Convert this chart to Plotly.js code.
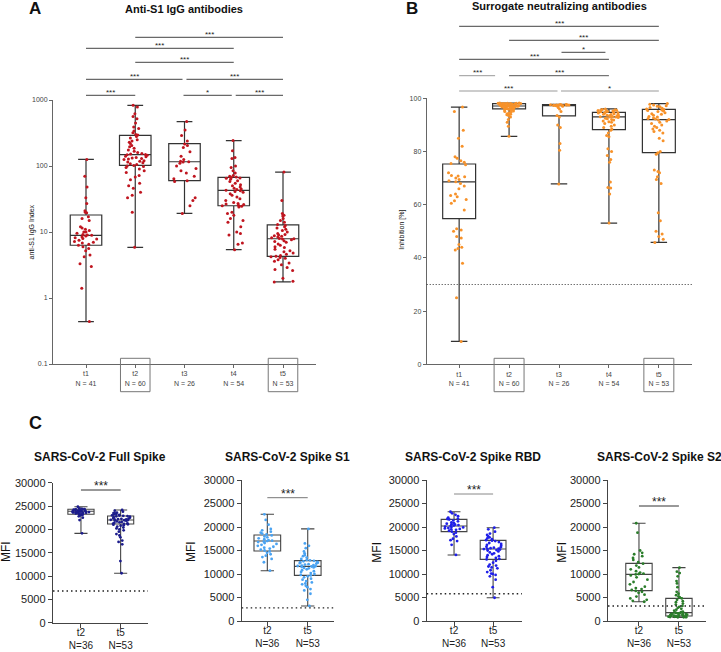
<!DOCTYPE html>
<html><head><meta charset="utf-8">
<script src="https://cdn.plot.ly/plotly-3.0.1.min.js"></script>
<style>html,body{margin:0;padding:0;background:#fff}</style>
</head><body><div id="chart" style="width:721px;height:652px"></div>
<script>
// ---------------- DATA ----------------
const timepointsAB = ['t1','t2','t3','t4','t5'];
const timepointsC = ['t2','t5'];

// Panel A: anti-S1 IgG index
const iggT1 = [126,70,48,33,27,21,20,19.5,17,16,15,12,11.5,11,10.5,10,10,9.6,9.2,9,8.9,8.7,8.5,8.2,8,7.8,7.5,7.2,7,6.8,6.5,6.3,6,5.6,5.2,4.5,4.2,3.3,3.0,1.4,0.44];
const iggT2 = [831,780,620,560,520,450,390,370,340,320,300,295,280,265,250,240,230,220,205,195,185,175,168,160,155,152,150,148,146,140,138,135,132,130,128,125,120,118,115,112,108,105,102,100,98,95,90,85,80,72,68,62,55,50,46,40,36,33,20,5.85];
const iggT3 = [471,350,290,240,215,205,190,165,140,125,118,116,115,110,100,92,85,78,70,64,60,58,33,30,25,19.1];
const iggT4 = [243,170,135,130,100,95,85,78,72,70,68,67,66,65,63,60,58,55,52,50,48,46,45,44,43,42,41,40,38,36,34,32,30,28,27,26.5,26,25.5,25,24.5,24,20,19,18,16,15,14,12,10,9.5,9,6.8,6.5,5.4];
const iggT5 = [81,30,19,18,17.5,16,15,14,13,12.5,12,11.5,11,10.5,10,9.5,9.2,9,8.8,8.6,8.4,8.2,8,7.9,7.8,7.6,7.4,7.2,7,6.6,6.3,6,5.8,5.5,5.2,5,4.8,4.6,4.4,4.3,4.2,4.1,4,3.8,3.6,3.4,3.2,2.9,2.7,2.6,2,1.8,1.75];
const iggQ1 = [6.3,102,60,25,4.27];
const iggMedian = [8.9,149,116,42.7,7.9];
const iggQ3 = [18.1,292,218,67.2,12.8];
const iggCutoff = 1;

// Panel B: surrogate neutralization, inhibition %
const svntT1 = [96.7,95,88,85,82,78,77.5,76.5,76,75.5,75,72,71,70.8,70.5,70,69.5,69,68.6,68,67,66,64,63.5,63,62,61.5,60.5,58,51,50.5,50,48,47.5,45,44,43.5,43,38,25,8.6];
const svntT2 = [98.2,98.2,98.1,98.1,98.1,98.0,98.0,98.0,98.0,97.9,97.9,97.9,97.8,97.8,97.8,97.7,97.7,97.6,97.6,97.5,97.5,97.4,97.4,97.3,97.3,97.2,97.2,97.1,97.1,97.0,97.0,96.9,96.9,96.8,96.8,96.7,96.6,96.5,96.4,96.3,96.2,96.1,96.0,96.0,95.8,95.6,95.4,95.2,95.0,94.8,94.5,94.2,94.0,93.8,93.5,93.0,92.0,91.0,89.5,85.7];
const svntT3 = [97.7,97.7,97.6,97.6,97.6,97.5,97.5,97.5,97.4,97.4,97.4,97.3,97.3,97.3,97.2,97.0,96.5,96.0,95.0,93.5,93.0,90.0,89.0,83.0,80.5,67.8];
const svntT4 = [96.0,95.8,95.7,95.6,95.5,95.4,95.3,95.2,95.0,94.9,94.8,94.7,94.6,94.5,94.4,94.2,94.0,93.9,93.8,93.6,93.5,93.4,93.3,93.2,93.1,93.0,93.0,92.8,92.5,92.3,92.0,91.8,91.5,91.2,91.0,90.5,90.0,89.5,89.0,88.5,88.0,87.0,86.0,85.5,81.0,80.0,78.5,77.0,76.0,68.5,66.5,66.3,64.0,53.1];
const svntT5 = [98.0,97.8,97.5,97.2,97.0,96.8,96.5,96.3,96.0,95.8,95.6,95.4,95.2,95.0,94.6,94.2,94.0,93.6,93.2,93.0,92.6,92.4,92.2,92.0,91.8,91.5,91.0,90.5,90.0,89.5,89.0,88.5,88.0,87.5,87.0,85.0,84.0,80.0,79.5,79.0,73.0,72.5,72.0,70.5,69.5,68.0,57.0,54.0,50.0,49.0,48.0,47.0,45.8];
const svntQ1 = [54.8,96.0,93.4,88.2,79.6];
const svntMedian = [68.6,97.1,97.3,93.0,92.0];
const svntQ3 = [75.3,98.0,97.6,94.7,95.8];
const svntCutoff = 30;

// Panel C: MFI
const fullT2 = [24850,24500,24400,24350,24300,24250,24200,24150,24100,24050,24000,23950,23900,23900,23850,23850,23800,23800,23750,23700,23700,23650,23600,23550,23500,23450,23400,23300,23250,23200,23100,23000,22800,22500,22000,19150];
const fullT5 = [24150,24000,23800,23600,23500,23400,23300,23200,23100,23000,22950,22900,22850,22800,22700,22600,22500,22400,22300,22250,22200,22150,22100,22050,22000,21950,21900,21800,21700,21600,21500,21400,21300,21200,21150,21100,21000,20900,20800,20600,20400,20200,20000,19800,19500,19000,18700,18300,17600,17300,16800,13200,10600];
const s1T2 = [22700,21500,20500,19600,19300,19000,18800,18600,18400,18200,18000,17800,17600,17400,17200,17100,17000,16900,16800,16600,16400,16200,16000,15800,15600,15400,15200,15000,14800,14500,14200,13900,13600,13200,12500,10700];
const s1T5 = [19600,16500,16000,15500,14800,14400,14000,13800,13500,13200,13000,12900,12800,12700,12600,12500,12400,12300,12200,12100,12000,11900,11800,11700,11650,11600,11500,11400,11300,11200,11000,10800,10600,10400,10200,10000,9800,9700,9500,9300,9000,8800,8500,8200,8000,7800,7500,7200,6800,6500,5800,4500,3200];
const rbdT2 = [23250,22900,22600,22300,22000,21800,21700,21600,21400,21200,21000,20800,20700,20600,20500,20400,20300,20200,20100,20000,19900,19800,19700,19600,19500,19400,19200,19000,18800,18500,18000,17500,17200,17000,16200,14050];
const rbdT5 = [19850,19500,19000,18600,18300,18000,17800,17600,17400,17200,17100,17000,16800,16600,16400,16200,16000,15800,15700,15600,15500,15400,15350,15300,15200,15100,15000,14800,14600,14400,14200,14000,13800,13600,13400,13200,13100,12800,12400,12000,11800,11600,11400,11200,10800,10400,10100,10000,9800,9500,8800,7200,4950];
const s2T2 = [20800,18800,15000,14500,14200,13800,13400,13000,12500,12200,11800,11400,11000,10600,10300,10100,10000,9900,9700,9300,8800,8300,7800,7300,7000,6800,6600,6400,6200,6000,5600,5200,4800,4500,4300,4100];
const s2T5 = [11350,10500,10200,9500,8500,8000,7200,6200,5800,5500,5200,5000,4800,4500,4200,4000,3700,3500,3200,3000,2800,2600,2400,2200,2000,1900,1800,1750,1700,1650,1600,1550,1500,1450,1400,1350,1300,1250,1200,1150,1100,1050,1000,980,950,920,900,880,860,840,820,800,780];
const fullQ1 = [23228,21150], fullMedian = [23871,22007], fullQ3 = [24300,22864];
const s1Q1 = [14893,9716], s1Median = [17021,11631], s1Q3 = [18297,12837];
const rbdQ1 = [19007,13120], rbdMedian = [20212,15319], rbdQ3 = [21631,17163];
const s2Q1 = [6454,1064], s2Median = [9929,1773], s2Q3 = [12269,4823];
const cCutoffs = [6800,2800,5800,3200];

// Significance comparisons [fromIndex, toIndex, label]
const sigA = [[1,4,'***'],[0,3,'***'],[1,3,'***'],[0,1.96,'***'],[2.04,4,'***'],[0,1,'***'],[1.98,2.96,'*'],[3.04,4,'***']];
const sigB = [[0,4,'***'],[1,4,'***'],[2.05,2.93,'*'],[0,3,'***'],[0,0.72,'***'],[1,3,'***'],[0,1.97,'***'],[2.04,4,'*']];
const sigC = ['***','***','***','***'];

// ---------------- LAYOUT HELPERS ----------------
const W = 721, H = 652;
const fx = x => x / W;
const fy = y => 1 - y / H;
const FONT = 'Liberation Sans, Arial, Helvetica, sans-serif';

const traces = [];
const shapes = [];
const annotations = [];

function panel(ax, cats, groups, q1, med, q3, color, boxW, lineColor, mSize, lineW) {
  const xa = 'x' + (ax === 1 ? '' : ax), ya = 'y' + (ax === 1 ? '' : ax);
  traces.push({
    type: 'box', x: cats, q1: q1, median: med, q3: q3,
    lowerfence: groups.map(g => Math.min(...g)),
    upperfence: groups.map(g => Math.max(...g)),
    xaxis: xa, yaxis: ya, boxpoints: false, width: boxW, whiskerwidth: 0.5,
    fillcolor: 'rgba(0,0,0,0)', line: {color: lineColor, width: lineW},
    hoverinfo: 'skip', showlegend: false
  });
  const xs = [], ys = [];
  groups.forEach((g, i) => g.forEach(v => { xs.push(cats[i]); ys.push(v); }));
  traces.push({
    type: 'box', x: xs, y: ys, xaxis: xa, yaxis: ya, boxpoints: 'all', jitter: 0.8, pointpos: 0,
    width: boxW, fillcolor: 'rgba(0,0,0,0)', line: {color: 'rgba(0,0,0,0)', width: 0},
    marker: {color: color, size: mSize}, hoverinfo: 'skip', showlegend: false
  });
}

const groupsA = [iggT1, iggT2, iggT3, iggT4, iggT5];
const groupsB = [svntT1, svntT2, svntT3, svntT4, svntT5];
panel(1, timepointsAB, groupsA, iggQ1, iggMedian, iggQ3, '#c0151f', 0.64, '#333', 3, 1.2);
panel(2, timepointsAB, groupsB, svntQ1, svntMedian, svntQ3, '#f7922a', 0.66, '#333', 3, 1.2);
const cSets = [
  [[fullT2, fullT5], fullQ1, fullMedian, fullQ3, '#1c1c8c'],
  [[s1T2, s1T5], s1Q1, s1Median, s1Q3, '#4aa3f2'],
  [[rbdT2, rbdT5], rbdQ1, rbdMedian, rbdQ3, '#1f1fe8'],
  [[s2T2, s2T5], s2Q1, s2Median, s2Q3, '#2a7d2a']
];
cSets.forEach((s, i) => panel(3 + i, timepointsC, s[0], s[1], s[2], s[3], s[4], 0.66, '#444', 2.8, 1.1));

// axes
const layout = {
  width: W, height: H, margin: {l: 0, r: 0, t: 0, b: 0}, autosize: false,
  paper_bgcolor: '#fff', plot_bgcolor: '#fff', showlegend: false, boxmode: 'overlay',
  font: {family: FONT, color: '#333'}
};
function xAxisAB(dom, range, groups) {
  return {domain: dom, range: range, type: 'category', showgrid: false, zeroline: false,
    showline: true, linecolor: '#666', linewidth: 1, ticks: 'outside', ticklen: 3, tickcolor: '#666',
    tickvals: timepointsAB, ticktext: timepointsAB.map((t, i) => t + '<br>N = ' + groups[i].length),
    tickfont: {size: 7, color: '#444', family: FONT}, fixedrange: true};
}
layout.xaxis = Object.assign(xAxisAB([fx(53), fx(316)], [-0.67, 4.67], groupsA), {anchor: 'y'});
layout.yaxis = {domain: [fy(364), fy(100)], anchor: 'x', type: 'log', range: [-1, 3], showgrid: false, zeroline: false,
  showline: true, linecolor: '#666', ticks: 'outside', ticklen: 3, tickcolor: '#666',
  tickvals: [0.1, 1, 10, 100, 1000], ticktext: ['0.1', '1', '10', '100', '1000'],
  tickfont: {size: 7, color: '#444', family: FONT}};
layout.xaxis2 = Object.assign(xAxisAB([fx(426.7), fx(692.3)], [-0.65, 4.67], groupsB), {anchor: 'y2'});
layout.yaxis2 = {domain: [fy(364.3), fy(98.3)], anchor: 'x2', range: [0, 100], showgrid: false, zeroline: false,
  showline: true, linecolor: '#666', ticks: 'outside', ticklen: 3, tickcolor: '#666', dtick: 20,
  tickfont: {size: 7, color: '#444', family: FONT}};

const cDoms = [
  {x: [53, 148], y: [622.7, 482.7], r: [-0.705, 1.69]},
  {x: [241.7, 334], y: [621, 480], r: [-0.634, 1.65]},
  {x: [426.7, 522], y: [621, 480], r: [-0.7, 1.74]},
  {x: [608, 705.7], y: [621, 480], r: [-0.775, 1.67]}
];
cDoms.forEach((d, i) => {
  const n = 3 + i;
  const groups = cSets[i][0];
  layout['xaxis' + n] = {domain: [fx(d.x[0]), fx(d.x[1])], range: d.r, type: 'category', anchor: 'y' + n,
    showgrid: false, zeroline: false, showline: true, linecolor: '#444', linewidth: 1.2,
    ticks: 'outside', ticklen: 4, tickcolor: '#444', ticklabelstandoff: -4,
    tickvals: timepointsC, ticktext: timepointsC.map((t, j) => t + '<br>N=' + groups[j].length),
    tickfont: {size: 10, color: '#222', family: FONT}};
  layout['yaxis' + n] = {domain: [fy(d.y[0]), fy(d.y[1])], range: [0, 30000], anchor: 'x' + n,
    showgrid: false, zeroline: false, showline: true, linecolor: '#444', linewidth: 1.2,
    ticks: 'outside', ticklen: 4, tickcolor: '#444', dtick: 5000, tickformat: 'd',
    tickfont: {size: 11, color: '#222', family: FONT}};
});

// cutoff dotted lines
shapes.push({type: 'line', xref: 'x domain', yref: 'y', x0: 0, x1: 1, y0: Math.log10(iggCutoff), y1: Math.log10(iggCutoff),
  line: {color: '#333', width: 1, dash: '1px,2px'}});
shapes.push({type: 'line', xref: 'x2 domain', yref: 'y2', x0: 0, x1: 1, y0: svntCutoff, y1: svntCutoff,
  line: {color: '#333', width: 1, dash: '1px,2px'}});
cCutoffs.forEach((c, i) => {
  const n = 3 + i;
  shapes.push({type: 'line', xref: 'x' + n + ' domain', yref: 'y' + n, x0: 0, x1: 1, y0: c, y1: c,
    line: {color: '#222', width: 1.4, dash: '1.5px,3px'}});
});

// significance brackets
function brackets(xref, list, rowsPx, starSize, starLift, colors) {
  list.forEach((b, i) => {
    const yl = rowsPx[i];
    shapes.push({type: 'line', xref: xref, yref: 'paper', x0: b[0], x1: b[1], y0: fy(yl), y1: fy(yl),
      line: {color: colors[i], width: 1}});
    annotations.push({xref: xref, yref: 'paper', x: (b[0] + b[1]) / 2, y: fy(yl - starLift),
      text: b[2], showarrow: false, xanchor: 'center', yanchor: 'middle',
      font: {size: starSize, color: '#222', family: FONT}});
  });
}
brackets('x', sigA, [37.3, 48.3, 62.3, 79.3, 79.3, 95.3, 95.3, 95.3], 8, 2.4, Array(8).fill('#444'));
brackets('x2', sigB, [26.3, 40.3, 52.3, 59.3, 75.7, 75.7, 91, 91], 8, 2.8,
  ['#444', '#444', '#444', '#444', '#999', '#555', '#999', '#999']);
const cRows = [490, 497.7, 494, 506];
const cCols = ['#333', '#777', '#888', '#333'];
sigC.forEach((s, i) => brackets('x' + (3 + i), [[0, 1, s]], [cRows[i]], 12, 4.2, [cCols[i]]));

// boxes around t2/t5 labels
[['x', 1], ['x', 4], ['x2', 1], ['x2', 4]].forEach(r => {
  shapes.push({type: 'rect', xref: r[0], yref: 'paper', x0: r[1] - 0.3, x1: r[1] + 0.3,
    y0: fy(391.7), y1: fy(358.3), line: {color: '#777', width: 1}, fillcolor: 'rgba(0,0,0,0)'});
});

// titles and labels
function txt(x, y, text, size, bold, angle) {
  annotations.push({xref: 'paper', yref: 'paper', x: fx(x), y: fy(y), text: bold ? '<b>' + text + '</b>' : text,
    showarrow: false, xanchor: 'center', yanchor: 'middle', textangle: angle || 0,
    font: {size: size, color: '#111', family: FONT}});
}
txt(35, 8, 'A', 17, true);
txt(412, 8, 'B', 17, true);
txt(35, 423, 'C', 18, true);
txt(184, 9.5, 'Anti-S1 IgG antibodies', 11, true);
txt(559, 5.5, 'Surrogate neutralizing antibodies', 11, true);
txt(31.7, 231.7, 'anti-S1 IgG Index', 7, false, -90);
txt(401.7, 230, 'Inhibition [%]', 7, false, -90);
const cTitles = ['SARS-CoV-2 Full Spike', 'SARS-CoV-2 Spike S1', 'SARS-CoV-2 Spike RBD', 'SARS-CoV-2 Spike S2'];
const cTitleX = [100, 287, 473, 659];
cTitles.forEach((t, i) => txt(cTitleX[i], 457.3, t, 12, true));
const mfiX = [6, 191, 376.7, 561.7];
mfiX.forEach((x, i) => txt(x, 552, 'MFI', 12, false, -90));

layout.shapes = shapes;
layout.annotations = annotations;
Plotly.newPlot('chart', traces, layout, {staticPlot: true, displayModeBar: false});
</script>
</body></html>
